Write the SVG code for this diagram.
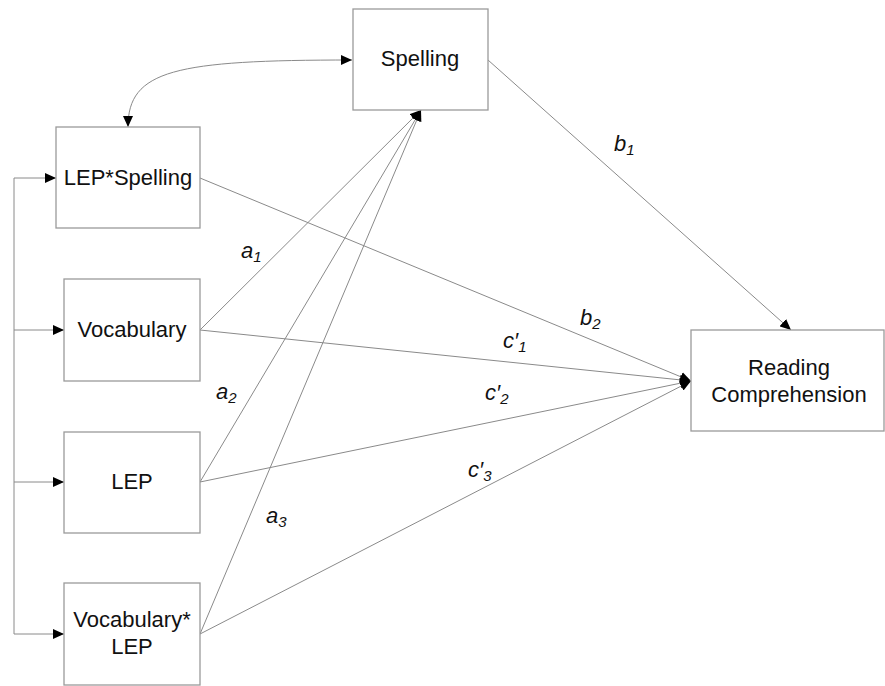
<svg xmlns="http://www.w3.org/2000/svg" width="885" height="686" viewBox="0 0 885 686">
<style>
.box{fill:#fff;stroke:#9a9a9a;stroke-width:1.3}
.lbl{font-family:"Liberation Sans",Arial,sans-serif;font-size:22px;fill:#111;text-anchor:middle}
.it{font-family:"Liberation Sans",Arial,sans-serif;font-size:22px;font-style:italic;fill:#111}
.sub{font-size:15px}
.ln{fill:none;stroke:#8a8a8a;stroke-width:1}
</style>
<defs>
<marker id="ah" markerUnits="userSpaceOnUse" markerWidth="12" markerHeight="10" refX="11" refY="5" orient="auto">
<path d="M0,0 L11,5 L0,10 Z" fill="#000"/>
</marker>
<marker id="ahs" markerUnits="userSpaceOnUse" markerWidth="12" markerHeight="10" refX="11" refY="5" orient="auto-start-reverse">
<path d="M0,0 L11,5 L0,10 Z" fill="#000"/>
</marker>
</defs>
<rect width="885" height="686" fill="#fff"/>
<g id="connectors">
<path class="ln" d="M128,127 C128,70 175,60 352,60" marker-start="url(#ahs)" marker-end="url(#ah)"/>
<path class="ln" d="M14,178 L14,634"/>
<line class="ln" x1="14" y1="178" x2="56" y2="178" marker-end="url(#ah)"/>
<line class="ln" x1="14" y1="330" x2="64" y2="330" marker-end="url(#ah)"/>
<line class="ln" x1="14" y1="482" x2="64" y2="482" marker-end="url(#ah)"/>
<line class="ln" x1="14" y1="634" x2="64" y2="634" marker-end="url(#ah)"/>
<line class="ln" x1="200" y1="330" x2="421" y2="110" marker-end="url(#ah)"/>
<line class="ln" x1="200" y1="482" x2="421" y2="110" marker-end="url(#ah)"/>
<line class="ln" x1="200" y1="634" x2="421" y2="110" marker-end="url(#ah)"/>
<line class="ln" x1="488" y1="60" x2="791" y2="330" marker-end="url(#ah)"/>
<line class="ln" x1="200" y1="178" x2="691" y2="381" marker-end="url(#ah)"/>
<line class="ln" x1="200" y1="330" x2="691" y2="381" marker-end="url(#ah)"/>
<line class="ln" x1="200" y1="482" x2="691" y2="381" marker-end="url(#ah)"/>
<line class="ln" x1="200" y1="634" x2="691" y2="381" marker-end="url(#ah)"/>
<text class="it" x="241" y="258">a<tspan class="sub" dy="4">1</tspan></text>
<text class="it" x="216" y="399">a<tspan class="sub" dy="4">2</tspan></text>
<text class="it" x="266" y="523">a<tspan class="sub" dy="4">3</tspan></text>
<text class="it" x="614" y="151">b<tspan class="sub" dy="4">1</tspan></text>
<text class="it" x="580" y="325">b<tspan class="sub" dy="4">2</tspan></text>
<text class="it" x="503" y="348">c′<tspan class="sub" dy="4">1</tspan></text>
<text class="it" x="485" y="400">c′<tspan class="sub" dy="4">2</tspan></text>
<text class="it" x="468" y="477">c′<tspan class="sub" dy="4">3</tspan></text>
</g>
<g id="spelling"><rect class="box" x="353" y="9" width="135" height="101"/><text class="lbl" x="420" y="66">Spelling</text></g>
<g id="lep-spelling"><rect class="box" x="56" y="127" width="144" height="101"/><text class="lbl" x="128" y="185">LEP*Spelling</text></g>
<g id="vocabulary"><rect class="box" x="64" y="279" width="136" height="102"/><text class="lbl" x="132" y="337">Vocabulary</text></g>
<g id="lep"><rect class="box" x="64" y="432" width="136" height="101"/><text class="lbl" x="132" y="489">LEP</text></g>
<g id="vocab-lep"><rect class="box" x="64" y="583" width="136" height="102"/><text class="lbl" x="132" y="627">Vocabulary*</text><text class="lbl" x="132" y="654">LEP</text></g>
<g id="reading"><rect class="box" x="691" y="330" width="193" height="101"/><text class="lbl" x="789" y="375">Reading</text><text class="lbl" x="789" y="402">Comprehension</text></g>
</svg>
